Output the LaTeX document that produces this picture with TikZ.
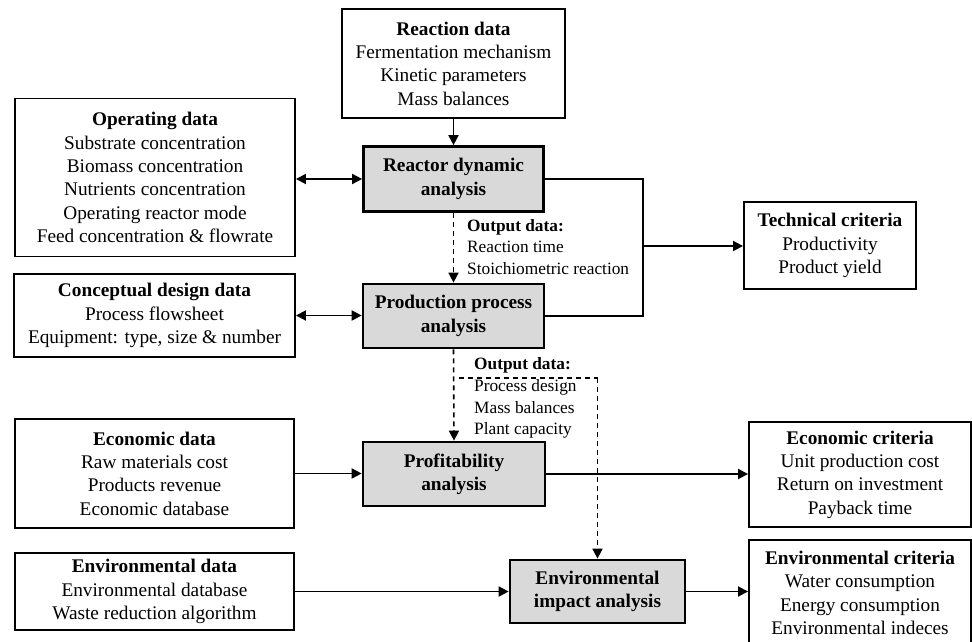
\documentclass[tikz,border=0pt]{standalone}
\usepackage{fontspec}
\setmainfont{Liberation Serif}
\usetikzlibrary{arrows.meta}
\definecolor{boxgray}{HTML}{D9D9D9}
\begin{document}
\begin{tikzpicture}[x=1pt,y=-1pt,
  box/.style={draw, line width=1.9pt, align=center, inner sep=2pt,
    font=\fontsize{19.3pt}{23.4pt}\selectfont},
  gbox/.style={draw, line width=2.7pt, fill=boxgray, align=center, inner sep=2pt,
    font=\fontsize{19.3pt}{23.4pt}\selectfont\bfseries},
  lbl/.style={align=left, inner sep=0pt, anchor=north west,
    font=\fontsize{17.3pt}{21.7pt}\selectfont},
  conn/.style={line width=1.8pt, -{Triangle[length=10pt,width=10pt]}},
  dconn/.style={line width=1.8pt, {Triangle[length=10pt,width=10pt]}-{Triangle[length=10pt,width=10pt]}},
  dashconn/.style={line width=1.6pt, dash pattern=on 5pt off 4pt, -{Triangle[length=10pt,width=10pt]}},
  plain/.style={line width=1.8pt}
]
\useasboundingbox (0,0) rectangle (972,642);

% input boxes
\node[box, minimum width=223pt, minimum height=109pt] (reaction) at (453.5,63.5)
  {\textbf{Reaction data}\\Fermentation mechanism\\Kinetic parameters\\Mass balances};
\node[box, minimum width=280pt, minimum height=158pt] (operating) at (155,177.5)
  {\textbf{Operating data}\\Substrate concentration\\Biomass concentration\\Nutrients concentration\\Operating reactor mode\\Feed concentration \& flowrate};
\node[box, minimum width=281pt, minimum height=83pt] (conceptual) at (154.5,315.5)
  {\textbf{Conceptual design data}\\Process flowsheet\\Equipment: type, size \& number};
\node[box, minimum width=279pt, minimum height=109pt] (econdata) at (154.5,473.5)
  {\textbf{Economic data}\\Raw materials cost\\Products revenue\\Economic database};
\node[box, minimum width=279pt, minimum height=77pt] (envdata) at (154.5,591.5)
  {\textbf{Environmental data}\\Environmental database\\Waste reduction algorithm};

% analysis boxes
\node[gbox, minimum width=180pt, minimum height=65pt] (reactor) at (453.5,179)
  {Reactor dynamic\\analysis};
\node[gbox, minimum width=181pt, minimum height=64pt] (production) at (453.5,316)
  {Production process\\analysis};
\node[gbox, minimum width=182pt, minimum height=64pt] (profit) at (454,474)
  {Profitability\\analysis};
\node[gbox, minimum width=175pt, minimum height=63pt] (envimpact) at (597.5,591.5)
  {Environmental\\impact analysis};

% criteria boxes
\node[box, minimum width=172pt, minimum height=87pt] (technical) at (830,245.5)
  {\textbf{Technical criteria}\\Productivity\\Product yield};
\node[box, minimum width=222pt, minimum height=105pt] (econcrit) at (860,474.5)
  {\textbf{Economic criteria}\\Unit production cost\\Return on investment\\Payback time};
\node[box, minimum width=222pt, minimum height=106pt] (envcrit) at (860,593)
  {\textbf{Environmental criteria}\\Water consumption\\Energy consumption\\Environmental indeces};

% output data labels
\node[lbl] (out1) at (467,219) {\textbf{Output data:}\\Reaction time\\Stoichiometric reaction};
\node[lbl] (out2) at (474,357.5) {\textbf{Output data:}\\Process design\\Mass balances\\Plant capacity};

% connectors
\draw[conn] (reaction.south) -- (reactor.north);
\draw[dconn] (operating.east |- reactor.west) -- (reactor.west);
\draw[dconn] (conceptual.east) -- (conceptual.east -| production.west);
\draw[dashconn] (reactor.south) -- (production.north);
\draw[dashconn] (production.south) -- (profit.north);

\coordinate (J) at (643,246);
\draw[plain] (reactor.east) -| (J) |- (production.east);
\draw[conn] (J) -- (J -| technical.west);

\coordinate (D) at (459,378);
\draw[line width=1.6pt, dash pattern=on 5pt off 4pt] (D) -- (D -| envimpact.north);
\draw[dashconn] (D -| envimpact.north) -- (envimpact.north);

\draw[conn] (econdata.east) -- (econdata.east -| profit.west);
\draw[conn] (profit.east) -- (profit.east -| econcrit.west);
\draw[conn] (envdata.east) -- (envdata.east -| envimpact.west);
\draw[conn] (envimpact.east) -- (envimpact.east -| envcrit.west);
\end{tikzpicture}
\end{document}
